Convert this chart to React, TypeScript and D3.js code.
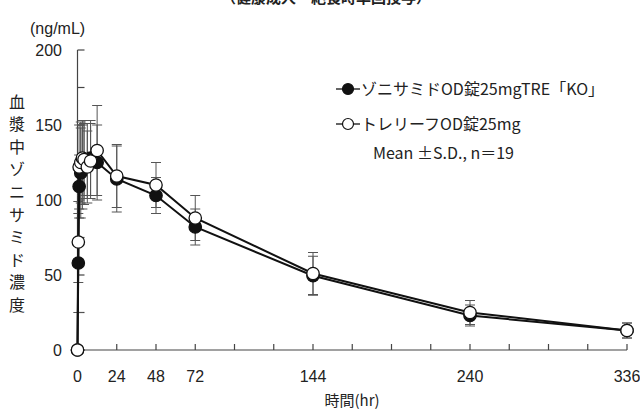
import * as d3 from 'd3';

const times = [0, 0.5, 1, 2, 3, 4, 6, 8, 12, 24, 48, 72, 144, 240, 336];
const zonisamideMean = [0, 58, 109, 118, 122, 124, 126, 128, 125, 114, 103, 82, 49.5, 23, 13];
const zonisamideSD = [0, 33, 21, 30, 28, 27, 25, 25, 25, 22, 12, 12, 13, 7, 5];
const trerifMean = [0, 72, 122, 125, 128, 127, 122, 126, 133, 116, 110, 88, 51, 25, 13];
const trerifSD = [0, 27, 28, 27, 25, 26, 24, 25, 30, 21, 15, 15, 14, 8, 5];

const xTickLabels = [0, 24, 48, 72, 144, 240, 336];
const xMinorTicks = d3.range(0, 337, 24);
const yTickLabels = [0, 50, 100, 150, 200];
const yMinorTicks = d3.range(0, 201, 25);

const seriesNames = ['ゾニサミドOD錠25mgTRE「KO」', 'トレリーフOD錠25mg'];
const yTitle = '血漿中ゾニサミド濃度';

const numFont = '"Liberation Sans", Arial, sans-serif';
const jpFont = '"Noto Sans CJK JP", "Liberation Sans", sans-serif';

export default function App() {
  const x = d3.scaleLinear().domain([0, 336]).range([77.5, 627]);
  const y = d3.scaleLinear().domain([0, 200]).range([350, 50]);

  const line = d3
    .line<number>()
    .x((_, i) => x(times[i]))
    .y(d => y(d));

  const series = [
    { mean: zonisamideMean, sd: zonisamideSD, fill: '#111' },
    { mean: trerifMean, sd: trerifSD, fill: '#fff' },
  ];

  return (
    <>
      <style>{`body{margin:0}`}</style>
      <svg width={640} height={410} style={{ display: 'block', background: '#fff' }}>
        {/* 上で切れているタイトル */}
        <text x={326} y={3} textAnchor="middle" fontFamily={jpFont} fontSize={15} fontWeight="bold" fill="#222">
          （健康成人・絶食時単回投与）
        </text>

        <text x={30} y={34} fontFamily={numFont} fontSize={16} fill="#222">
          (ng/mL)
        </text>

        {yTitle.split('').map((ch, i) => (
          <text
            key={i}
            x={17}
            y={102 + i * 22.6}
            dy="0.35em"
            textAnchor="middle"
            fontFamily={jpFont}
            fontSize={16}
            fill="#222"
          >
            {ch}
          </text>
        ))}

        {/* axes */}
        <line x1={x(0)} x2={x(0)} y1={y(0)} y2={y(200)} stroke="#444" strokeWidth={1.2} />
        <line x1={x(0)} x2={x(336)} y1={y(0)} y2={y(0)} stroke="#444" strokeWidth={1.2} />
        {yMinorTicks.map(t => (
          <line key={t} x1={x(0)} x2={x(0) + 7} y1={y(t)} y2={y(t)} stroke="#444" strokeWidth={1.2} />
        ))}
        {xMinorTicks.map(t => (
          <line key={t} x1={x(t)} x2={x(t)} y1={y(0)} y2={y(0) - 6} stroke="#444" strokeWidth={1.2} />
        ))}
        {yTickLabels.map(t => (
          <text key={t} x={62} y={y(t)} dy="0.35em" textAnchor="end" fontFamily={numFont} fontSize={16} fill="#222">
            {t}
          </text>
        ))}
        {xTickLabels.map(t => (
          <text key={t} x={x(t)} y={382} textAnchor="middle" fontFamily={numFont} fontSize={16} fill="#222">
            {t}
          </text>
        ))}
        <text x={352} y={406} textAnchor="middle" fontFamily={jpFont} fontSize={15} fill="#222">
          時間(hr)
        </text>

        {/* error bars */}
        {series.map((s, si) =>
          s.mean.map((m, i) =>
            s.sd[i] > 0 ? (
              <g key={`${si}-${i}`} stroke="#555" strokeWidth={1}>
                <line x1={x(times[i])} x2={x(times[i])} y1={y(m - s.sd[i])} y2={y(m + s.sd[i])} />
                <line x1={x(times[i]) - 5} x2={x(times[i]) + 5} y1={y(m + s.sd[i])} y2={y(m + s.sd[i])} />
                <line x1={x(times[i]) - 5} x2={x(times[i]) + 5} y1={y(m - s.sd[i])} y2={y(m - s.sd[i])} />
              </g>
            ) : null
          )
        )}

        {/* lines and markers */}
        {series.map((s, si) => (
          <g key={si}>
            <path d={line(s.mean) ?? ''} fill="none" stroke="#111" strokeWidth={2} />
            {s.mean.map((m, i) => (
              <circle key={i} cx={x(times[i])} cy={y(m)} r={6.2} fill={s.fill} stroke="#111" strokeWidth={1.3} />
            ))}
          </g>
        ))}

        {/* legend */}
        {series.map((s, si) => (
          <g key={si} transform={`translate(336,${89 + si * 35})`}>
            <line x1={0} x2={24} y1={0} y2={0} stroke="#111" strokeWidth={1.3} />
            <circle cx={12} cy={0} r={5.5} fill={s.fill} stroke="#111" strokeWidth={1.2} />
            <text x={25} y={0} dy="0.35em" fontFamily={jpFont} fontSize={16} fill="#222">
              {seriesNames[si]}
            </text>
          </g>
        ))}
        <text x={373} y={153} dy="0.35em" fontFamily={jpFont} fontSize={16} fill="#222">
          Mean ±S.D., n＝19
        </text>
      </svg>
    </>
  );
}
